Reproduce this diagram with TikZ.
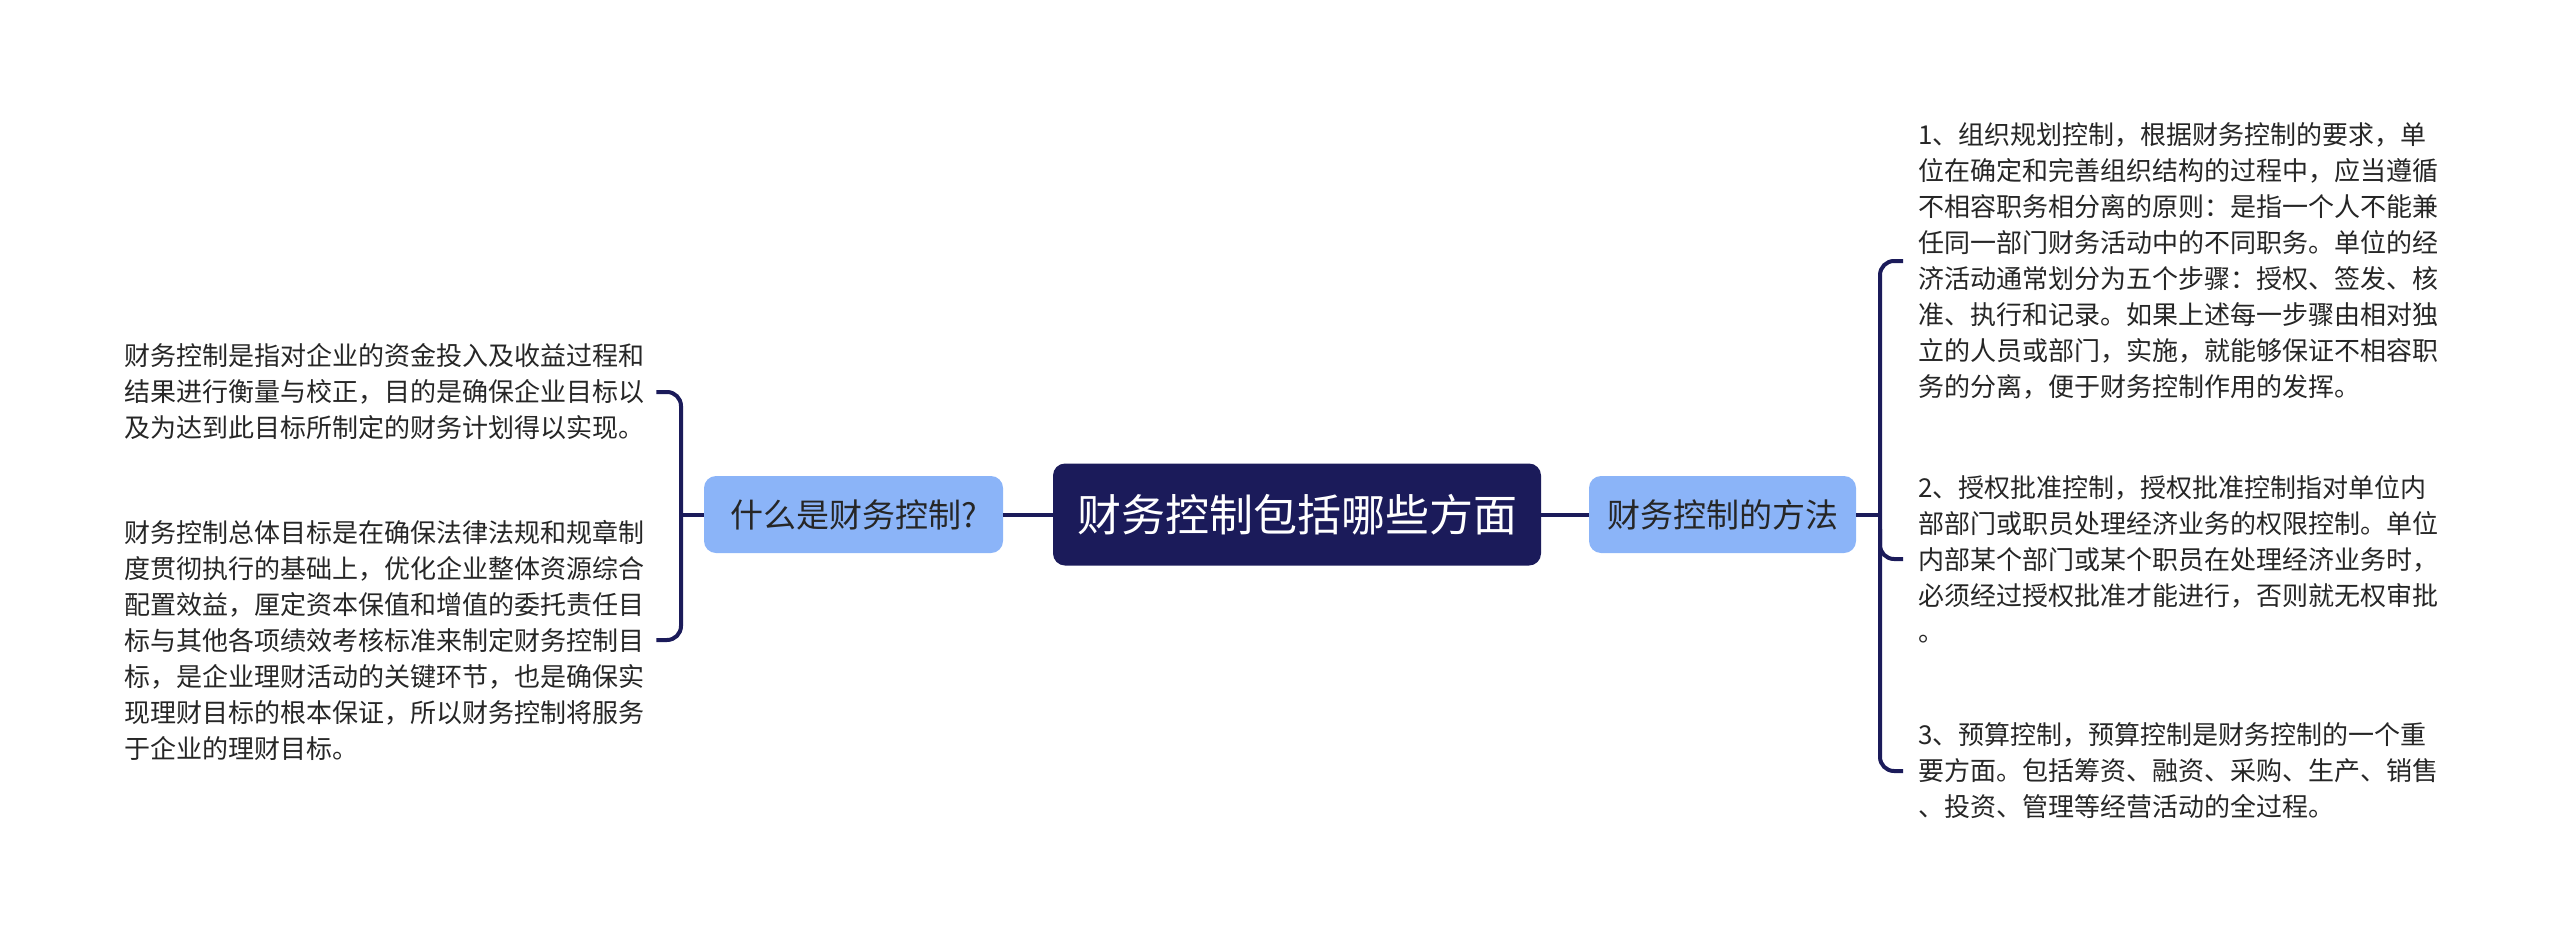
\documentclass[tikz,border=0pt]{standalone}
\usepackage{fontspec}
\setmainfont{Noto Sans CJK SC}
\usetikzlibrary{positioning, calc}
\definecolor{MapNavy}{RGB}{27,27,90}
\definecolor{MapBlue}{RGB}{139,180,248}
\definecolor{MapText}{RGB}{38,38,38}

\begin{document}
\begin{tikzpicture}[x=1pt,y=-1pt,
        root/.style={fill=MapNavy,text=white,rounded corners=12pt,
                     minimum width=488pt,minimum height=102pt,
                     font=\fontsize{44}{52}\selectfont},
        topic/.style={fill=MapBlue,text=MapText,rounded corners=12pt,
                      minimum height=77pt,font=\fontsize{33}{40}\selectfont},
        leaf/.style={text=MapText,align=left,inner sep=0pt,
                     font=\fontsize{26}{36}\selectfont},
        branch/.style={draw=MapNavy,line width=4pt,rounded corners=14pt}
      ]
        \useasboundingbox (0,0) rectangle (2560,945);
        \node[root] (root) at (1297,514.5) {财务控制包括哪些方面};
        \node[topic,minimum width=299pt] (what) at (853.5,514.5) {什么是财务控制?};
        \node[topic,minimum width=267pt] (how) at (1722.5,514.5) {财务控制的方法};
        \node[leaf,anchor=west] (defn) at (124,392)
          {财务控制是指对企业的资金投入及收益过程和\\
           结果进行衡量与校正，目的是确保企业目标以\\
           及为达到此目标所制定的财务计划得以实现。};
        \node[leaf,anchor=west] (goal) at (124,640)
          {财务控制总体目标是在确保法律法规和规章制\\
           度贯彻执行的基础上，优化企业整体资源综合\\
           配置效益，厘定资本保值和增值的委托责任目\\
           标与其他各项绩效考核标准来制定财务控制目\\
           标，是企业理财活动的关键环节，也是确保实\\
           现理财目标的根本保证，所以财务控制将服务\\
           于企业的理财目标。};
        \node[leaf,anchor=west] (org) at (1918,261)
          {1、组织规划控制，根据财务控制的要求，单\\
           位在确定和完善组织结构的过程中，应当遵循\\
           不相容职务相分离的原则：是指一个人不能兼\\
           任同一部门财务活动中的不同职务。单位的经\\
           济活动通常划分为五个步骤：授权、签发、核\\
           准、执行和记录。如果上述每一步骤由相对独\\
           立的人员或部门，实施，就能够保证不相容职\\
           务的分离，便于财务控制作用的发挥。};
        \node[leaf,anchor=west] (auth) at (1918,559)
          {2、授权批准控制，授权批准控制指对单位内\\
           部部门或职员处理经济业务的权限控制。单位\\
           内部某个部门或某个职员在处理经济业务时，\\
           必须经过授权批准才能进行，否则就无权审批\\
           。};
        \node[leaf,anchor=west] (budget) at (1918,771)
          {3、预算控制，预算控制是财务控制的一个重\\
           要方面。包括筹资、融资、采购、生产、销售\\
           、投资、管理等经营活动的全过程。};
        \coordinate (lfork) at (681,514.5);
        \coordinate (rfork) at (1880,514.5);
        \draw[branch] (root.west) -- (what.east);
        \draw[branch] (root.east) -- (how.west);
        \draw[branch] (what.west) -- (lfork);
        \draw[branch] ([xshift=12pt]defn.east) -- (defn.east -| lfork)
          -- (goal.east -| lfork) -- ([xshift=12pt]goal.east);
        \draw[branch] (how.east) -- (rfork);
        \draw[branch] ([xshift=-15pt]org.west) -- (org.west -| rfork)
          -- (budget.west -| rfork) -- ([xshift=-15pt]budget.west);
        \draw[branch] ($(auth.west -| rfork)+(0,-30)$) -- (auth.west -| rfork)
          -- ([xshift=-15pt]auth.west);
      \end{tikzpicture}
\end{document}
